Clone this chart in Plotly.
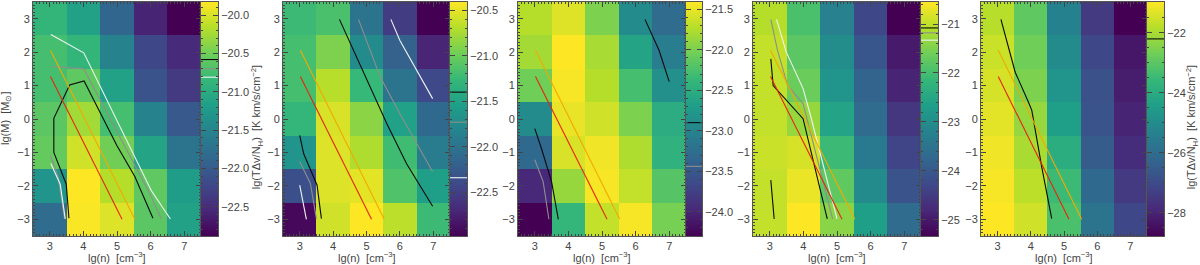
import numpy as np
import plotly.graph_objects as go

# ---------------- data ----------------
lg_n = [3, 4, 5, 6, 7]
lg_M = [3, 2, 1, 0, -1, -2, -3]  # rows listed top -> bottom

z_p1 = [
    [-20.87, -21.14, -21.87, -22.58, -22.88],
    [-20.75, -20.87, -21.51, -22.21, -22.51],
    [-20.75, -20.59, -21.14, -22.09, -22.36],
    [-20.62, -20.26, -20.75, -21.51, -22.03],
    [-20.56, -20.04, -20.50, -21.11, -21.72],
    [-21.29, -19.83, -20.17, -20.59, -21.20],
    [-21.81, -19.85, -19.98, -20.62, -21.14],
]
z_p2 = [
    [-21.23, -21.16, -22.00, -22.52, -22.98],
    [-21.18, -20.92, -21.75, -22.18, -22.72],
    [-21.18, -20.69, -21.26, -22.00, -22.41],
    [-21.28, -20.56, -20.87, -21.52, -22.11],
    [-21.64, -20.54, -20.72, -21.21, -21.90],
    [-22.34, -20.54, -20.51, -21.13, -21.54],
    [-22.93, -20.59, -20.41, -20.67, -21.23],
]
z_p3 = [
    [-21.73, -21.55, -21.99, -22.91, -23.29],
    [-21.81, -21.41, -21.79, -22.62, -23.06],
    [-22.05, -21.44, -21.73, -22.28, -22.86],
    [-22.91, -21.50, -21.61, -21.99, -22.51],
    [-23.32, -21.58, -21.47, -21.76, -22.45],
    [-23.98, -21.87, -21.44, -21.67, -22.19],
    [-24.30, -22.39, -21.67, -21.44, -22.02],
]
z_p4 = [
    [-21.08, -21.94, -23.23, -24.28, -25.33],
    [-20.98, -21.79, -22.99, -24.04, -24.99],
    [-20.98, -21.65, -22.84, -23.80, -24.85],
    [-20.98, -21.31, -22.56, -23.66, -24.57],
    [-20.93, -20.84, -22.08, -23.37, -24.33],
    [-20.98, -20.69, -21.74, -23.04, -24.09],
    [-20.98, -20.55, -21.41, -22.65, -23.66],
]
z_p5 = [
    [-21.83, -22.92, -25.34, -27.44, -28.77],
    [-21.59, -22.69, -25.03, -27.05, -28.30],
    [-21.44, -22.53, -24.71, -26.82, -28.15],
    [-21.28, -22.22, -24.40, -26.74, -27.99],
    [-21.13, -21.98, -23.93, -26.51, -27.76],
    [-21.05, -21.75, -23.47, -26.12, -27.44],
    [-20.97, -21.52, -23.23, -25.81, -27.05],
]

# colour-bar ranges (min, max)
crange_p1 = [-22.88, -19.83]
crange_p2 = [-22.98, -20.41]
crange_p3 = [-24.30, -21.41]
crange_p4 = [-25.33, -20.55]
crange_p5 = [-28.77, -20.97]

cb_ticks_p1 = [-20.0, -20.5, -21.0, -21.5, -22.0, -22.5]
cb_ticks_p2 = [-20.5, -21.0, -21.5, -22.0, -22.5]
cb_ticks_p3 = [-21.5, -22.0, -22.5, -23.0, -23.5, -24.0]
cb_ticks_p4 = [-21, -22, -23, -24, -25]
cb_ticks_p5 = [-22, -24, -26, -28]

# contour levels marked on the colour bars: (black, gray, white)
levels_p1 = [-20.58, -20.70, -20.81]
levels_p2 = [-21.40, -21.73, -22.34]
levels_p3 = [-22.90, -23.44, None]
levels_p4 = [-21.08, -21.18, -21.33]
levels_p5 = [-22.2, None, None]

# common reference lines
red_x = [3.02, 5.15]
red_y = [1.27, -3.0]
orange_x = [3.02, 5.53]
orange_y = [2.06, -3.0]

# panel 1 contours
p1_black_x = [3.57, 3.49, 3.12, 3.12, 3.59, 4.02, 5.0, 5.53, 6.07]
p1_black_y = [-2.97, -1.95, -1.0, 0.02, 1.02, 1.14, -0.80, -1.72, -2.97]
p1_gray_x = [3.05, 4.01, 5.97, 6.32]
p1_gray_y = [1.57, 1.50, -2.22, -2.99]
p1_gray2_x = [3.02, 3.25, 3.44]
p1_gray2_y = [-1.09, -1.73, -2.98]
p1_white_x = [3.03, 4.01, 6.02, 6.59]
p1_white_y = [2.53, 1.98, -2.14, -2.99]
p1_white2_x = [3.03, 3.31, 3.46]
p1_white2_y = [-1.33, -1.95, -2.99]

# panel 2 contours
p2_black_x = [4.19, 4.66, 5.21, 5.61, 6.2, 6.98]
p2_black_y = [2.98, 1.95, 0.71, -0.14, -1.34, -2.61]
p2_black2_x = [3.0, 3.12, 3.52, 3.65]
p2_black2_y = [-0.49, -1.04, -1.98, -2.98]
p2_gray_x = [4.76, 5.41, 6.0, 6.98]
p2_gray_y = [2.98, 1.26, 0.16, -1.58]
p2_gray2_x = [3.0, 3.32, 3.5]
p2_gray2_y = [-1.27, -1.93, -2.98]
p2_white_x = [5.73, 6.0, 6.98]
p2_white_y = [2.98, 2.35, 0.61]
p2_white2_x = [3.0, 3.2]
p2_white2_y = [-1.98, -3.0]

# panel 3 contours
p3_black_x = [6.28, 6.7, 7.0]
p3_black_y = [2.98, 2.05, 1.12]
p3_black2_x = [3.0, 3.2, 3.5, 3.7]
p3_black2_y = [-0.29, -0.89, -1.88, -3.0]
p3_gray2_x = [3.0, 3.25, 3.42]
p3_gray2_y = [-1.22, -1.88, -3.0]

# panel 4 contours
p4_black_x = [3.03, 3.1, 3.99, 4.71]
p4_black_y = [1.8, 1.0, 0.01, -2.99]
p4_black2_x = [3.03, 3.13]
p4_black2_y = [-1.83, -2.99]
p4_gray_x = [3.03, 3.23, 3.53, 3.99, 4.87]
p4_gray_y = [2.98, 2.05, 1.0, 0.46, -2.99]
p4_white_x = [3.2, 3.49, 3.99, 4.2, 5.0]
p4_white_y = [2.98, 2.0, 0.91, 0.15, -2.99]

# panel 5 contours
p5_black_x = [3.1, 3.53, 3.93, 4.03, 4.33, 4.63]
p5_black_y = [2.98, 1.4, 0.5, 0.26, -1.44, -2.98]

x_title = "lg(n)  [cm<sup>−3</sup>]"
y_title = "lg(M)  [M<sub>⊙</sub>]"
cb_title = "lg(TΔv/N<sub>H</sub>)  [K km/s/cm<sup>−2</sup>]"

# ---------------- layout geometry (pixels) ----------------
W, H = 1200, 265
heat_px = [(33, 201), (283, 450), (518, 686), (753, 921), (981, 1147)]
cb_px = [(201, 218), (450, 467), (686, 702), (921, 938), (1147, 1164)]
top_px, bot_px = 2, 236
ydom = [(H - bot_px) / H, (H - top_px) / H]

FONT = dict(family="Liberation Sans, Arial, sans-serif", size=11, color="#444444")
COL_BLACK = "#0a0a0a"
COL_GRAY = "#8e8e8e"
COL_WHITE = "#eef4f4"
COL_RED = "#e8260c"
COL_ORANGE = "#f2a900"

panels = [
    dict(z=z_p1, cr=crange_p1, ticks=cb_ticks_p1, lv=levels_p1, fmt=".1f", minor=0.1,
         lines=[(p1_black_x, p1_black_y, COL_BLACK), (p1_gray_x, p1_gray_y, COL_GRAY),
                (p1_gray2_x, p1_gray2_y, COL_GRAY), (p1_white_x, p1_white_y, COL_WHITE),
                (p1_white2_x, p1_white2_y, COL_WHITE)]),
    dict(z=z_p2, cr=crange_p2, ticks=cb_ticks_p2, lv=levels_p2, fmt=".1f", minor=0.1,
         lines=[(p2_black_x, p2_black_y, COL_BLACK), (p2_black2_x, p2_black2_y, COL_BLACK),
                (p2_gray_x, p2_gray_y, COL_GRAY), (p2_gray2_x, p2_gray2_y, COL_GRAY),
                (p2_white_x, p2_white_y, COL_WHITE), (p2_white2_x, p2_white2_y, COL_WHITE)]),
    dict(z=z_p3, cr=crange_p3, ticks=cb_ticks_p3, lv=levels_p3, fmt=".1f", minor=0.1,
         lines=[(p3_black_x, p3_black_y, COL_BLACK), (p3_black2_x, p3_black2_y, COL_BLACK),
                (p3_gray2_x, p3_gray2_y, COL_GRAY)]),
    dict(z=z_p4, cr=crange_p4, ticks=cb_ticks_p4, lv=levels_p4, fmt="d", minor=0.2,
         lines=[(p4_black_x, p4_black_y, COL_BLACK), (p4_black2_x, p4_black2_y, COL_BLACK),
                (p4_gray_x, p4_gray_y, COL_GRAY), (p4_white_x, p4_white_y, COL_WHITE)]),
    dict(z=z_p5, cr=crange_p5, ticks=cb_ticks_p5, lv=levels_p5, fmt="d", minor=0.5,
         lines=[(p5_black_x, p5_black_y, COL_BLACK)]),
]

fig = go.Figure()
layout = dict(
    width=W, height=H, margin=dict(l=0, r=0, t=0, b=0),
    paper_bgcolor="white", plot_bgcolor="white", showlegend=False, font=FONT,
)

ys_asc = lg_M[::-1]
annotations = []
for i, p in enumerate(panels):
    hx = 2 * i + 1
    cx = 2 * i + 2
    hxn = "" if hx == 1 else str(hx)
    cxn = str(cx)
    zmin, zmax = p["cr"]
    z_asc = p["z"][::-1]
    fig.add_trace(go.Heatmap(x=lg_n, y=ys_asc, z=z_asc, zmin=zmin, zmax=zmax,
                             colorscale="Viridis", showscale=False,
                             xaxis="x" + hxn, yaxis="y" + hxn, hoverinfo="skip"))
    for lx, ly, col in p["lines"]:
        fig.add_trace(go.Scatter(x=lx, y=ly, mode="lines", line=dict(color=col, width=1.1),
                                 xaxis="x" + hxn, yaxis="y" + hxn, hoverinfo="skip"))
    fig.add_trace(go.Scatter(x=orange_x, y=orange_y, mode="lines", line=dict(color=COL_ORANGE, width=1.1),
                             xaxis="x" + hxn, yaxis="y" + hxn, hoverinfo="skip"))
    fig.add_trace(go.Scatter(x=red_x, y=red_y, mode="lines", line=dict(color=COL_RED, width=1.1),
                             xaxis="x" + hxn, yaxis="y" + hxn, hoverinfo="skip"))

    # colour bar drawn as its own small heatmap axis
    grad = np.linspace(zmin, zmax, 300)
    fig.add_trace(go.Heatmap(x=[0, 1], y=grad, z=[[v, v] for v in grad], zmin=zmin, zmax=zmax,
                             colorscale="Viridis", showscale=False,
                             xaxis="x" + cxn, yaxis="y" + cxn, hoverinfo="skip"))
    for lvl, col in zip(p["lv"], [COL_BLACK, COL_GRAY, COL_WHITE]):
        if lvl is None:
            continue
        fig.add_trace(go.Scatter(x=[0, 1], y=[lvl, lvl], mode="lines", line=dict(color=col, width=1.1),
                                 xaxis="x" + cxn, yaxis="y" + cxn, hoverinfo="skip"))

    hd = [heat_px[i][0] / W, heat_px[i][1] / W]
    cd = [cb_px[i][0] / W, cb_px[i][1] / W]
    axcommon = dict(showline=True, linecolor="#555555", linewidth=1, mirror="ticks",
                    ticks="inside", ticklen=5, tickcolor="#444444", tickwidth=1,
                    showgrid=False, zeroline=False, tickfont=FONT)
    layout["xaxis" + hxn] = dict(axcommon, domain=hd, range=[2.5, 7.5], anchor="y" + hxn,
                                 tickvals=[3, 4, 5, 6, 7],
                                 minor=dict(ticks="inside", ticklen=2, dtick=0.1, tickcolor="#444444"))
    layout["yaxis" + hxn] = dict(axcommon, domain=ydom, range=[-3.5, 3.5], anchor="x" + hxn,
                                 tickvals=[-3, -2, -1, 0, 1, 2, 3],
                                 minor=dict(ticks="inside", ticklen=2, dtick=0.1, tickcolor="#444444"))
    layout["xaxis" + cxn] = dict(domain=cd, range=[0, 1], anchor="y" + cxn, showline=True,
                                 linecolor="#555555", linewidth=1, mirror=True, ticks="",
                                 showticklabels=False, showgrid=False, zeroline=False)
    layout["yaxis" + cxn] = dict(axcommon, domain=ydom, range=[zmin, zmax], anchor="x" + cxn,
                                 side="right", tickvals=p["ticks"], tickformat=p["fmt"],
                                 minor=dict(ticks="inside", ticklen=2, dtick=p["minor"],
                                            tickcolor="#444444"))

    # x-axis title
    annotations.append(dict(text=x_title, x=(hd[0] + hd[1]) / 2, y=(H - 257) / H,
                            xref="paper", yref="paper", xanchor="center", yanchor="middle",
                            showarrow=False, font=FONT))

annotations.append(dict(text=y_title, x=6 / W, y=(ydom[0] + ydom[1]) / 2, xref="paper", yref="paper",
                        xanchor="center", yanchor="middle", textangle=-90, showarrow=False, font=FONT))
annotations.append(dict(text=cb_title, x=257 / W, y=0.52, xref="paper", yref="paper",
                        xanchor="center", yanchor="middle", textangle=-90, showarrow=False, font=FONT))
annotations.append(dict(text=cb_title, x=1192 / W, y=0.52, xref="paper", yref="paper",
                        xanchor="center", yanchor="middle", textangle=-90, showarrow=False, font=FONT))
layout["annotations"] = annotations

fig.update_layout(**layout)
fig.write_html(
    "out.html",
    config={"displayModeBar": False, "staticPlot": True},
    post_script=(
        "document.body.style.margin='0';document.body.style.padding='0';"
        "document.documentElement.style.overflow='hidden';"
    ),
)
